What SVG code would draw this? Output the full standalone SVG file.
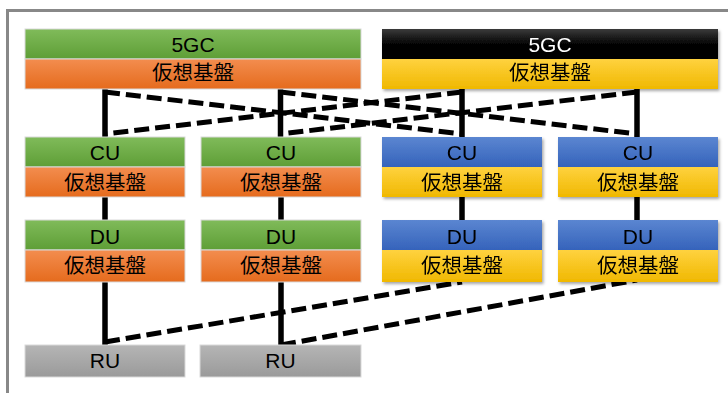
<svg xmlns="http://www.w3.org/2000/svg" width="728" height="393" viewBox="0 0 728 393">
<defs>
<linearGradient id="gGreen" x1="0" y1="0" x2="0" y2="1"><stop offset="0" stop-color="#80bb5a"/><stop offset="1" stop-color="#5e9e36"/></linearGradient>
<linearGradient id="gOrange" x1="0" y1="0" x2="0" y2="1"><stop offset="0" stop-color="#f38d4f"/><stop offset="1" stop-color="#e56b1d"/></linearGradient>
<linearGradient id="gYellow" x1="0" y1="0" x2="0" y2="1"><stop offset="0" stop-color="#ffd23f"/><stop offset="1" stop-color="#f0b800"/></linearGradient>
<linearGradient id="gBlue" x1="0" y1="0" x2="0" y2="1"><stop offset="0" stop-color="#5b86d1"/><stop offset="1" stop-color="#3563bb"/></linearGradient>
<linearGradient id="gBlack" x1="0" y1="0" x2="0" y2="1"><stop offset="0" stop-color="#3a3a3a"/><stop offset="0.5" stop-color="#050505"/><stop offset="1" stop-color="#000"/></linearGradient>
<linearGradient id="gGray" x1="0" y1="0" x2="0" y2="1"><stop offset="0" stop-color="#b5b5b5"/><stop offset="1" stop-color="#9a9a9a"/></linearGradient>
<filter id="shadow" x="-5%" y="-20%" width="110%" height="150%"><feDropShadow dx="1.5" dy="2" stdDeviation="1.5" flood-color="#000" flood-opacity="0.35"/></filter>
</defs>
<style>
.lat{font-family:"Liberation Sans",Arial,sans-serif;font-size:21px;text-anchor:middle;fill:#000}
.kan{font-family:"Noto Sans CJK JP","Noto Sans",sans-serif;font-size:20.5px;text-anchor:middle;fill:#000}
.wht{fill:#fff}
.lb{stroke:#d9d9d9;stroke-width:1}
.solid{stroke:#000;stroke-width:5.5;fill:none}
.dash{stroke:#000;stroke-width:5;fill:none;stroke-dasharray:15 6}
.sh{filter:url(#shadow)}
</style>
<rect x="0" y="0" width="728" height="393" fill="#fff"/>
<rect x="7.5" y="10.5" width="740" height="400" fill="#fff" stroke="#888" stroke-width="3"/>

<g id="connectors">
<line class="solid" x1="105" y1="89" x2="105" y2="137"/>
<line class="solid" x1="280.5" y1="89" x2="280.5" y2="137"/>
<line class="solid" x1="462" y1="89" x2="462" y2="137"/>
<line class="solid" x1="637" y1="89" x2="637" y2="137"/>
<path class="dash" d="M105,92 L462,134"/>
<path class="dash" d="M462,92 L105,134"/>
<path class="dash" d="M280.5,92 L637,134"/>
<path class="dash" d="M637,92 L280.5,134"/>
<line class="solid" x1="105" y1="197" x2="105" y2="220"/>
<line class="solid" x1="281" y1="197" x2="281" y2="220"/>
<line class="solid" x1="462" y1="197" x2="462" y2="220"/>
<line class="solid" x1="637" y1="197" x2="637" y2="220"/>
<line class="solid" x1="105" y1="282" x2="105" y2="345"/>
<line class="solid" x1="281" y1="282" x2="281" y2="345"/>
<path class="dash" d="M105,342 L462,282"/>
<path class="dash" d="M281,345 L637,280"/>
</g>

<g id="core-left">
<rect class="lb" x="25" y="29" width="336" height="30" fill="url(#gGreen)"/>
<rect class="lb" x="25" y="59" width="336" height="30" fill="url(#gOrange)"/>
<text class="lat" x="193" y="52">5GC</text>
<text class="kan" x="193" y="80">仮想基盤</text>
</g>
<g id="core-right" class="sh">
<rect x="382" y="29" width="336" height="30" fill="url(#gBlack)"/>
<rect x="382" y="59" width="336" height="30" fill="url(#gYellow)"/>
<text class="lat wht" x="550" y="52">5GC</text>
<text class="kan" x="550" y="80">仮想基盤</text>
</g>

<g id="cu1">
<rect class="lb" x="25" y="137" width="160" height="30" fill="url(#gGreen)"/>
<rect class="lb" x="25" y="167" width="160" height="30" fill="url(#gOrange)"/>
<text class="lat" x="105" y="160">CU</text>
<text class="kan" x="105" y="190">仮想基盤</text>
</g>
<g id="cu2">
<rect class="lb" x="201" y="137" width="160" height="30" fill="url(#gGreen)"/>
<rect class="lb" x="201" y="167" width="160" height="30" fill="url(#gOrange)"/>
<text class="lat" x="281" y="160">CU</text>
<text class="kan" x="281" y="190">仮想基盤</text>
</g>
<g id="cu3" class="sh">
<rect x="382" y="137" width="160" height="30" fill="url(#gBlue)"/>
<rect x="382" y="167" width="160" height="30" fill="url(#gYellow)"/>
<text class="lat" x="462" y="160">CU</text>
<text class="kan" x="462" y="190">仮想基盤</text>
</g>
<g id="cu4" class="sh">
<rect x="558" y="137" width="160" height="30" fill="url(#gBlue)"/>
<rect x="558" y="167" width="160" height="30" fill="url(#gYellow)"/>
<text class="lat" x="638" y="160">CU</text>
<text class="kan" x="638" y="190">仮想基盤</text>
</g>

<g id="du1">
<rect class="lb" x="25" y="220" width="160" height="30" fill="url(#gGreen)"/>
<rect class="lb" x="25" y="250" width="160" height="32" fill="url(#gOrange)"/>
<text class="lat" x="105" y="243.5">DU</text>
<text class="kan" x="105" y="273">仮想基盤</text>
</g>
<g id="du2">
<rect class="lb" x="201" y="220" width="160" height="30" fill="url(#gGreen)"/>
<rect class="lb" x="201" y="250" width="160" height="32" fill="url(#gOrange)"/>
<text class="lat" x="281" y="243.5">DU</text>
<text class="kan" x="281" y="273">仮想基盤</text>
</g>
<g id="du3" class="sh">
<rect x="382" y="220" width="160" height="30" fill="url(#gBlue)"/>
<rect x="382" y="250" width="160" height="32" fill="url(#gYellow)"/>
<text class="lat" x="462" y="243.5">DU</text>
<text class="kan" x="462" y="273">仮想基盤</text>
</g>
<g id="du4" class="sh">
<rect x="558" y="220" width="160" height="30" fill="url(#gBlue)"/>
<rect x="558" y="250" width="160" height="32" fill="url(#gYellow)"/>
<text class="lat" x="638" y="243.5">DU</text>
<text class="kan" x="638" y="273">仮想基盤</text>
</g>

<g id="ru1">
<rect class="lb" x="25" y="345" width="160" height="32" fill="url(#gGray)"/>
<text class="lat" x="105" y="368">RU</text>
</g>
<g id="ru2">
<rect class="lb" x="200" y="345" width="161" height="32" fill="url(#gGray)"/>
<text class="lat" x="280.5" y="368">RU</text>
</g>
</svg>
